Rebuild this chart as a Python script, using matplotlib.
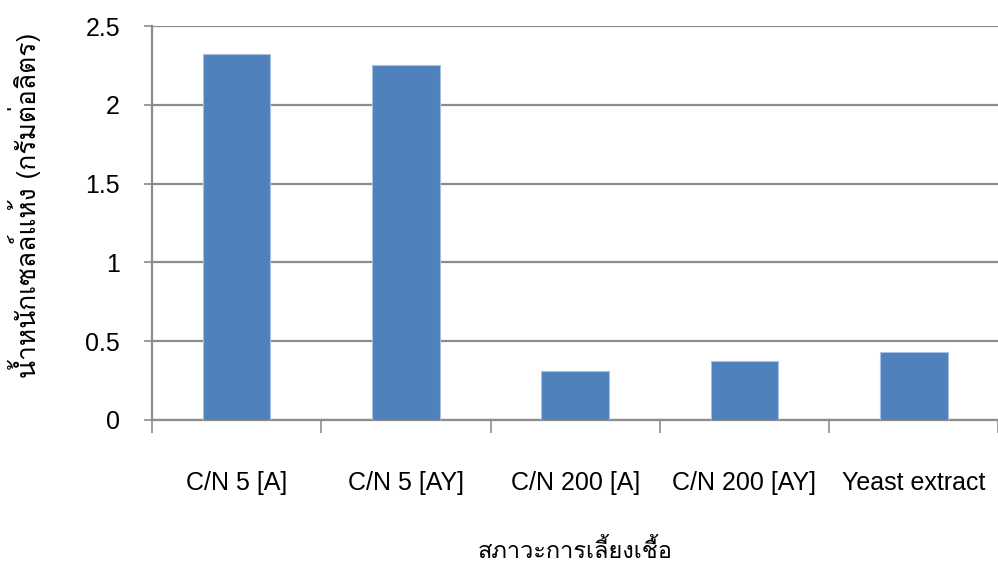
import matplotlib
matplotlib.use("Agg")
import matplotlib.pyplot as plt
from matplotlib import font_manager
from matplotlib.ticker import FixedLocator, NullFormatter, FixedFormatter

categories = ["C/N 5 [A]", "C/N 5 [AY]", "C/N 200 [A]", "C/N 200 [AY]", "Yeast extract"]
dry_weight = [2.32, 2.25, 0.31, 0.375, 0.43]
y_ticks = [0, 0.5, 1, 1.5, 2, 2.5]
y_tick_labels = ["0", "0.5", "1", "1.5", "2", "2.5"]
x_title = "สภาวะการเลี้ยงเชื้อ"
y_title = "น้ำหนักเซลล์แห้ง (กรัมต่อลิตร)"


def find_thai_font():
    """Return the family name of an installed font that covers Thai."""
    try:
        from fontTools.ttLib import TTFont
    except Exception:
        return None
    for path in sorted(font_manager.findSystemFonts()):
        try:
            tt = TTFont(path, fontNumber=0, lazy=True)
            cmap = tt.getBestCmap() or {}
            if ord("ก") in cmap and ord("้") in cmap:
                return font_manager.FontProperties(fname=path).get_name()
        except Exception:
            continue
    return None


thai_family = find_thai_font()
latin = "Liberation Sans"
thai_fams = [f for f in [thai_family, latin, "DejaVu Sans"] if f]

fig = plt.figure(figsize=(9.98, 5.67), dpi=100)
ax = fig.add_axes([0.1523, 0.2593, 0.848, 0.6948])

n = len(categories)
centers = [i + 0.5 for i in range(n)]
ax.bar(centers, dry_weight, width=0.4, color="#4F81BD",
       edgecolor="#A7C0DE", linewidth=0.8, zorder=3)

ax.set_xlim(0, n)
ax.set_ylim(0, 2.5)

ax.yaxis.grid(True, color="#8C8C8C", linewidth=1.6, zorder=0)
ax.set_axisbelow(True)

for s in ["top", "right"]:
    ax.spines[s].set_visible(False)
for s in ["left", "bottom"]:
    ax.spines[s].set_color("#8C8C8C")
    ax.spines[s].set_linewidth(1.6)

ax.set_yticks(y_ticks)
ax.set_yticklabels(y_tick_labels, fontfamily=latin, fontsize=18)
ax.tick_params(axis="y", direction="out", length=6, width=1.2,
               color="#8C8C8C", pad=17, labelcolor="#000000")

# category boundaries carry the tick marks, centres carry the labels
ax.xaxis.set_major_locator(FixedLocator(list(range(n + 1))))
ax.xaxis.set_major_formatter(NullFormatter())
ax.xaxis.set_minor_locator(FixedLocator(centers))
ax.xaxis.set_minor_formatter(FixedFormatter(categories))
ax.tick_params(axis="x", which="major", direction="out", length=9,
               width=1.2, color="#8C8C8C")
ax.tick_params(axis="x", which="minor", length=0, pad=37, labelsize=18)
for lbl in ax.xaxis.get_minorticklabels():
    lbl.set_fontfamily(latin)

fig.text(0.576, 0.028, x_title, ha="center", va="center",
         fontsize=17, family=thai_fams)
fig.text(0.025, 0.638, y_title, ha="center", va="center", rotation=90,
         fontsize=19, family=thai_fams)

fig.savefig("out.png", dpi=100)
